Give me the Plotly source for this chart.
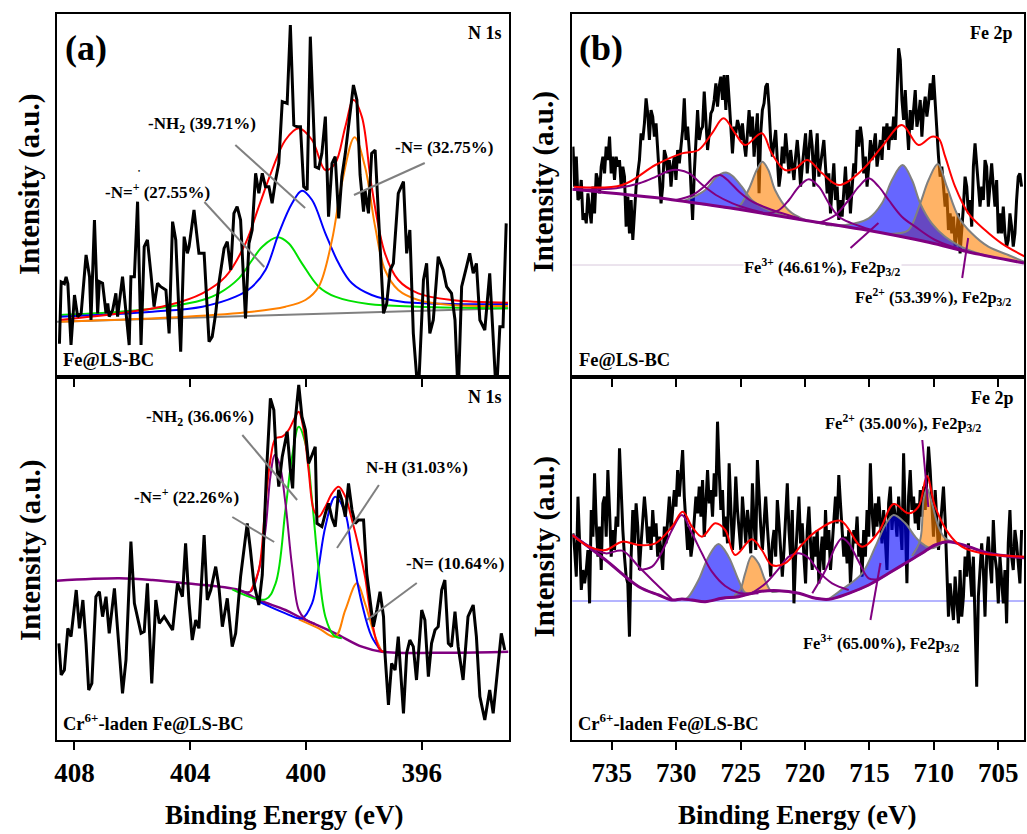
import numpy as np
import plotly.graph_objects as go

FONT = "Liberation Serif"
W, H = 1027, 834

# ======================= DATA =======================
# ---- (a) top: N 1s, Fe@LS-BC ----
n1a_e = [408.52,408.46,408.35,408.29,408.23,408.12,408.00,407.94,407.89,407.77,
         407.60,407.48,407.43,407.31,407.20,407.14,407.03,406.91,406.85,406.80,
         406.68,406.57,406.51,406.34,406.22,406.11,406.05,405.93,405.82,405.70,
         405.59,405.48,405.36,405.25,405.13,405.02,404.84,404.73,404.61,404.50,
         404.33,404.21,404.10,404.04,403.87,403.70,403.52,403.35,403.24,403.12,
         403.01,402.83,402.72,402.60,402.49,402.38,402.26,402.15,402.09,401.97,
         401.86,401.74,401.63,401.51,401.40,401.28,401.17,401.05,400.94,400.82,
         400.65,400.54,400.42,400.31,400.19,400.08,399.96,399.85,399.68,399.56,
         399.45,399.33,399.22,399.10,398.99,398.87,398.76,398.64,398.47,398.36,
         398.24,398.13,398.01,397.96,397.84,397.73,397.61,397.44,397.32,397.21,
         397.09,396.98,396.81,396.63,396.52,396.41,396.29,396.12,395.94,395.83,
         395.72,395.60,395.43,395.26,395.14,394.97,394.85,394.74,394.62,394.45,
         394.34,394.22,394.11,393.99,393.82,393.65,393.53,393.42,393.30,393.19,
         393.08]
n1a_i = [100,285,280,300,280,96,246,211,181,191,
         366,301,171,471,191,286,281,191,221,181,
         201,251,181,301,181,96,301,301,526,96,
         391,411,311,211,281,271,261,131,466,411,
         76,421,371,391,501,371,371,106,121,191,
         281,386,406,321,491,511,471,301,176,401,
         441,611,551,611,571,571,521,591,641,826,
         821,1056,756,751,751,571,561,1021,631,626,
         671,781,481,641,661,476,601,671,791,876,
         831,606,496,561,491,671,681,391,191,221,
         321,341,551,586,371,441,131,-60,291,341,
         131,171,361,321,271,251,171,-60,271,331,
         371,311,341,171,141,311,141,-60,151,151,
         461]
n1a_bg_e = [408.61, 393.0]
n1a_bg_i = [166, 206]
n1a_g_e = [408.52,406.45,404.73,403.58,403.01,402.32,401.86,401.51,400.98,400.60,400.14,399.56,398.99,397.84,396.12,393.02]
n1a_g_i = [186,196,211,231,251,296,351,391,419,401,341,271,241,219,211,206]
n1a_b_e = [408.52,405.30,403.58,402.43,401.86,401.40,400.94,400.48,400.14,399.79,399.33,398.87,398.41,397.73,396.69,394.97,393.02]
n1a_b_i = [181,196,211,241,271,321,431,521,559,531,431,341,281,246,226,219,219]
n1a_o_e = [408.52,404.16,401.86,400.71,400.02,399.56,399.10,398.76,398.32,397.96,397.61,397.27,396.81,396.12,394.97,393.02]
n1a_o_i = [166,181,196,211,231,271,411,581,719,631,451,321,261,231,216,213]
n1a_r_e = [408.52,406.45,404.73,403.58,402.78,402.09,401.63,401.17,400.71,400.25,399.79,399.33,398.99,398.64,398.36,398.07,397.73,397.27,396.81,396.12,394.97,393.02]
n1a_r_i = [171,191,216,251,301,401,511,621,711,746,711,621,641,751,831,781,571,371,291,251,231,223]

# ---- (a) bottom: N 1s, Cr6+-laden Fe@LS-BC ----
n1b_e = [408.54,408.46,408.35,408.23,408.12,407.94,407.83,407.71,407.60,407.51,
         407.40,407.26,407.14,407.03,406.91,406.80,406.62,406.51,406.34,406.22,
         406.05,405.93,405.70,405.59,405.48,405.33,405.19,405.07,404.90,404.79,
         404.61,404.44,404.27,404.16,404.04,403.93,403.81,403.70,403.52,403.41,
         403.29,403.12,403.01,402.89,402.72,402.55,402.43,402.26,402.03,401.92,
         401.80,401.63,401.51,401.36,401.23,401.11,401.03,400.94,400.82,400.65,
         400.54,400.46,400.37,400.25,400.14,400.02,399.91,399.79,399.68,399.62,
         399.45,399.33,399.22,399.10,398.99,398.87,398.76,398.64,398.53,398.41,
         398.30,398.18,398.01,397.90,397.78,397.67,397.55,397.44,397.32,397.27,
         397.15,397.04,396.92,396.81,396.63,396.52,396.41,396.29,396.18,396.00,
         395.89,395.77,395.66,395.54,395.43,395.31,395.20,395.08,394.97,394.85,
         394.74,394.57,394.40,394.22,394.11,393.99,393.82,393.65,393.53,393.36,
         393.25,393.13]
n1b_i = [290,195,210,335,310,450,335,420,290,150,
         170,430,445,370,430,320,455,330,140,240,
         595,410,320,325,470,170,420,350,370,355,
         330,470,430,590,410,300,360,335,615,420,
         450,520,460,340,425,280,320,490,650,570,
         470,405,495,810,1025,990,850,760,850,925,
         810,755,960,1065,970,930,830,855,880,650,
         640,680,710,665,640,750,720,670,770,690,
         650,660,660,500,410,340,390,445,370,260,
         105,230,210,310,80,260,300,280,180,390,
         360,190,290,330,340,450,480,290,280,385,
         280,180,370,405,310,130,60,150,80,230,
         320,270]
n1b_bg_e = [408.61,406.45,405.30,404.16,402.32,401.63,400.71,400.14,398.99,398.07,397.38,394.97,393.0]
n1b_bg_i = [478,485,480,470,450,420,390,365,320,280,265,262,265]
n1b_p_e = [402.32,401.92,401.63,401.40,401.23,401.08,400.92,400.71,400.48,400.25,400.02,399.68]
n1b_p_i = [450,445,510,630,790,855,830,710,520,390,362,348]
n1b_g_e = [402.55,401.40,401.05,400.71,400.48,400.25,400.02,399.79,399.56,399.33,399.05,398.76]
n1b_g_i = [452,422,470,690,850,940,890,720,510,370,315,305]
n1b_b_e = [401.63,400.71,400.14,399.79,399.56,399.33,398.99,398.64,398.41,398.07,397.73,397.38]
n1b_b_i = [415,380,365,410,520,640,730,680,560,410,310,265]
n1b_o_e = [400.25,399.56,398.99,398.64,398.24,397.96,397.61,397.38]
n1b_o_i = [362,335,310,390,470,410,310,265]
n1b_r_e = [401.92,401.63,401.40,401.23,401.05,400.82,400.60,400.37,400.25,400.08,399.91,399.73,399.56,399.33,399.10,398.87,398.64,398.41,398.18,397.96,397.73,397.44,397.27]
n1b_r_i = [445,510,710,840,905,910,930,970,985,930,810,690,670,700,740,760,730,660,580,490,360,270,265]

# ---- (b) top: Fe 2p, Fe@LS-BC ----
fe_e_start, fe_e_end = 738.02, 703.19   # energy span of the recorded spectra
fe1_i = [691,571,661,531,541,591,471,491,461,551,501,461,571,491,611,591,551,631,661,611,
         691,651,721,611,661,591,661,631,651,571,631,601,451,541,431,531,411,491,571,611,
         651,731,711,761,836,791,711,801,781,721,761,681,611,521,571,681,661,611,651,571,
         631,661,591,681,641,701,741,836,711,751,681,571,471,611,691,801,711,741,751,856,
         771,681,731,791,801,831,881,811,871,901,831,906,801,906,831,731,671,751,731,771,
         751,711,761,701,661,731,801,721,781,661,721,791,551,731,801,821,871,881,811,711,
         661,701,741,651,571,611,691,641,731,671,611,681,641,591,661,711,651,571,631,681,
         731,611,671,741,691,571,661,731,601,641,681,711,631,551,611,491,571,641,531,571,
         471,531,481,571,631,531,591,491,571,641,611,741,691,751,711,611,661,571,631,711,
         651,691,731,631,671,711,651,751,711,761,681,751,711,781,711,871,986,951,831,771,
         861,761,681,801,741,801,861,751,781,831,721,801,841,781,821,881,831,906,811,731,
         661,601,631,571,511,551,441,491,431,481,391,431,491,371,431,511,601,571,491,531,
         451,631,701,631,561,511,571,531,651,631,511,571,641,571,511,591,431,491,431,511,
         431,391,411,491,451,391,431,531,601,611,571]
fe1_bg_e = [738.07,730.33,725.17,720.27,715.57,710.41,707.32,703.0]
fe1_bg_i = [563,532,503,472,443,404,375,342]
# Fe3+ (blue) and Fe2+ (orange) fitted peaks: top edge, then baseline back
fe1_bA_top_e = [729.50,728.73,727.75,726.98,726.54,726.07,725.63,724.91,724.14,723.36,722.33,721.30,720.27]
fe1_bA_top_i = [527,539,561,596,609,613,603,571,531,511,493,479,472]
fe1_bA_bot_e = [725.17,729.50]
fe1_bA_bot_i = [503,527]
fe1_oB_top_e = [726.41,725.17,724.40,723.75,723.31,722.85,722.33,721.30,720.27,717.90]
fe1_oB_top_i = [510,511,561,621,646,621,561,501,476,455]
fe1_oB_bot_e = [720.27,725.17,726.41]
fe1_oB_bot_i = [472,503,510]
fe1_bC_top_e = [718.41,716.86,715.06,714.03,713.25,712.43,711.70,711.06,710.16,709.12,707.32,705.25]
fe1_bC_top_i = [456,456,476,521,591,636,591,521,461,421,381,357]
fe1_bC_bot_e = [707.32,710.41,715.57,718.41]
fe1_bC_bot_i = [375,404,443,456]
fe1_oD_top_e = [713.77,712.74,711.96,711.06,710.41,709.69,708.99,708.09,707.06,705.77,704.22,703.0]
fe1_oD_top_i = [429,431,441,521,591,639,571,481,431,391,366,346]
fe1_oD_bot_e = [707.32,710.41,713.77]
fe1_oD_bot_i = [375,404,429]
# satellites (purple)
fe1_p1_e = [738.02,734.66,732.86,731.57,730.54,729.81,728.99,727.96,726.92,725.63,724.09,722.54]
fe1_p1_i = [563,566,581,601,619,621,611,576,546,521,501,486]
fe1_p2_e = [730.02,728.73,727.70,727.05,726.59,725.89,725.12,724.09,722.54,720.48]
fe1_p2_i = [531,546,576,601,606,586,556,526,501,476]
fe1_p3_e = [723.06,722.02,721.25,720.48,719.70,718.93,718.15,717.38,716.35,714.80]
fe1_p3_i = [490,501,531,571,593,571,521,481,461,441]
fe1_p4_e = [718.93,717.64,716.61,715.83,715.06,714.28,713.51,712.48,711.45,709.90,707.32]
fe1_p4_i = [462,486,531,571,596,571,531,481,451,411,375]
fe1_r_e = [737.94,734.20,731.62,729.56,728.27,727.23,726.33,725.43,724.65,723.36,722.59,721.56,720.73,719.83,
           718.67,717.38,715.57,714.03,712.48,711.19,710.16,709.64,709.12,708.35,707.32,706.03,704.74,702.93]
fe1_r_i = [571,576,636,671,681,731,776,731,696,731,671,621,626,651,
           611,576,621,691,756,696,721,716,661,571,491,441,401,361]
fe1_ref_i = 336

# ---- (b) bottom: Fe 2p, Cr6+-laden Fe@LS-BC ----
fe2_i = [620,570,490,730,590,450,510,470,510,570,410,690,610,800,650,550,640,510,710,730,
         610,810,690,550,630,570,670,640,875,730,630,550,490,470,310,550,690,590,710,640,
         510,590,650,730,670,590,640,570,690,610,650,550,610,570,510,640,590,670,730,630,
         700,750,700,810,730,790,870,730,660,570,640,550,590,660,730,680,760,670,780,610,
         730,810,710,750,670,800,730,955,810,690,750,610,670,590,830,710,570,650,790,690,
         630,570,730,640,590,690,640,560,770,650,570,840,730,640,570,670,730,640,550,490,
         590,630,550,720,650,580,490,570,690,770,630,550,690,410,550,650,730,590,650,550,
         470,630,700,590,510,610,550,630,470,550,610,510,690,570,630,510,590,670,730,650,
         795,710,630,550,610,530,630,470,550,630,590,670,550,590,490,630,550,690,610,830,
         690,610,710,640,730,670,590,690,610,510,710,760,630,710,670,610,730,650,570,860,
         670,470,730,810,690,730,650,710,630,750,670,760,690,810,880,810,710,610,750,660,
         570,630,710,760,660,510,370,470,410,360,490,410,350,510,370,430,550,490,590,510,
         430,550,390,160,430,510,590,510,370,550,610,530,470,660,550,510,410,550,470,410,
         510,350,590,690,550,510,630,590,530,470,630]
fe2_bg_e = [738.07,735.49,732.91,731.36,730.33,729.56,728.78,727.75,726.46,725.17,723.62,722.07,720.48,719.18,
            718.15,716.61,715.06,713.51,712.22,710.93,709.90,708.86,707.32,705.77,703.0]
fe2_bg_i = [615,540,460,435,420,423,420,415,425,430,445,448,440,425,
            422,440,465,500,530,560,585,595,580,560,547]
fe2_bA_top_e = [729.30,729.04,728.27,727.49,726.72,725.94,725.17,724.65,724.09]
fe2_bA_top_i = [422,430,480,550,588,550,480,442,438]
fe2_bA_bot_e = [725.17,727.75,729.30]
fe2_bA_bot_i = [430,415,422]
fe2_oB_top_e = [725.50,725.04,724.65,724.14,723.62,723.11,722.59,722.02]
fe2_oB_top_i = [433,450,500,552,530,480,445,447]
fe2_oB_bot_e = [723.62,725.50]
fe2_oB_bot_i = [445,433]
fe2_bC_top_e = [718.15,717.38,715.57,714.54,713.77,713.12,712.22,711.45,710.93,710.16,709.40]
fe2_bC_top_i = [423,445,500,580,645,675,650,610,590,575,590]
fe2_bC_bot_e = [710.93,713.51,716.61,718.15]
fe2_bC_bot_i = [560,500,440,423]
fe2_oD_top_e = [711.70,711.06,710.80,710.54,710.16,709.64,709.12,708.35,707.58]
fe2_oD_top_i = [552,600,720,755,712,640,605,592,583]
fe2_oD_bot_e = [708.86,709.90,711.70]
fe2_oD_bot_i = [595,585,552]
fe2_s0_e = [738.07,736.78,735.49,734.20,732.91,731.62,730.33]
fe2_s0_i = [615,582,560,568,520,470,422]
fe2_s1_e = [732.91,731.88,731.10,730.33,729.56,728.78,728.01,727.23,726.20,725.17,723.62]
fe2_s1_i = [510,520,565,630,675,620,560,505,462,442,440]
fe2_s2_e = [724.09,723.06,722.02,721.25,720.48,719.70,718.93,717.90,716.61]
fe2_s2_i = [442,470,515,550,560,545,505,470,450]
fe2_s3_e = [719.44,718.41,717.64,717.12,716.61,715.83,715.06,714.28]
fe2_s3_i = [440,510,580,605,590,535,485,482]
fe2_r_e = [738.07,736.78,735.49,734.20,732.91,731.62,730.33,729.50,728.78,728.01,726.98,726.20,725.43,724.14,
           723.36,722.59,721.56,720.27,719.18,717.25,715.57,714.28,713.12,711.96,711.19,710.54,709.90,708.86,
           707.83,706.28,702.93]
fe2_r_i = [615,580,570,595,585,590,640,685,640,610,650,630,555,602,
           570,525,530,585,625,658,580,625,708,680,700,792,700,620,
           580,560,550]
fe2_ref_i = 417

# tick labels
n_ticks = [408, 404, 400, 396]
fe_ticks = [735, 730, 725, 720, 715, 710, 705]

# ======================= FIGURE =======================
fig = go.Figure()
AX = {"tl": ("x", "y"), "tr": ("x2", "y2"), "bl": ("x3", "y3"), "br": ("x4", "y4")}

def line(p, xs, ys, color, width, shape="spline"):
    xa, ya = AX[p]
    fig.add_trace(go.Scatter(x=list(xs), y=list(ys), mode="lines",
                             line=dict(color=color, width=width, shape=shape),
                             xaxis=xa, yaxis=ya, showlegend=False, hoverinfo="skip"))

def area(p, te, ti, be, bi, color):
    xa, ya = AX[p]
    fig.add_trace(go.Scatter(x=list(te) + list(be), y=list(ti) + list(bi), mode="lines",
                             fill="toself", fillcolor=color,
                             line=dict(width=0, shape="spline"),
                             xaxis=xa, yaxis=ya, showlegend=False, hoverinfo="skip"))

RED, GREEN, BLUE, ORANGE, PURPLE, GRAY = "#ff0000", "#00e000", "#0000ff", "#ff8000", "#800080", "#808080"
BFILL, OFILL = "rgba(0,0,255,0.6)", "rgba(255,128,0,0.6)"

# --- top-left
line("tl", n1a_bg_e, n1a_bg_i, GRAY, 2, "linear")
line("tl", n1a_g_e, n1a_g_i, GREEN, 2)
line("tl", n1a_b_e, n1a_b_i, BLUE, 2)
line("tl", n1a_o_e, n1a_o_i, ORANGE, 2)
line("tl", n1a_r_e, n1a_r_i, RED, 2)
line("tl", n1a_e, n1a_i, "black", 3, "linear")

# --- bottom-left
line("bl", n1b_bg_e, n1b_bg_i, PURPLE, 2.5)
line("bl", n1b_o_e, n1b_o_i, ORANGE, 2)
line("bl", n1b_b_e, n1b_b_i, BLUE, 2)
line("bl", n1b_g_e, n1b_g_i, GREEN, 2)
line("bl", n1b_p_e, n1b_p_i, PURPLE, 2)
line("bl", n1b_r_e, n1b_r_i, RED, 2)
line("bl", n1b_e, n1b_i, "black", 3, "linear")

# --- top-right
fe1_e = np.linspace(fe_e_start, fe_e_end, len(fe1_i))
line("tr", fe1_e, fe1_i, "black", 3, "linear")
area("tr", fe1_oB_top_e, fe1_oB_top_i, fe1_oB_bot_e, fe1_oB_bot_i, OFILL)
area("tr", fe1_oD_top_e, fe1_oD_top_i, fe1_oD_bot_e, fe1_oD_bot_i, OFILL)
area("tr", fe1_bA_top_e, fe1_bA_top_i, fe1_bA_bot_e, fe1_bA_bot_i, BFILL)
area("tr", fe1_bC_top_e, fe1_bC_top_i, fe1_bC_bot_e, fe1_bC_bot_i, BFILL)
for te, ti in [(fe1_oB_top_e, fe1_oB_top_i), (fe1_oD_top_e, fe1_oD_top_i),
               (fe1_bA_top_e, fe1_bA_top_i), (fe1_bC_top_e, fe1_bC_top_i)]:
    line("tr", te, ti, GRAY, 2)
for se, si in [(fe1_p1_e, fe1_p1_i), (fe1_p2_e, fe1_p2_i), (fe1_p3_e, fe1_p3_i), (fe1_p4_e, fe1_p4_i)]:
    line("tr", se, si, PURPLE, 2)
line("tr", fe1_bg_e, fe1_bg_i, PURPLE, 3)
line("tr", fe1_r_e, fe1_r_i, RED, 2)

# --- bottom-right
fe2_e = np.linspace(fe_e_start, fe_e_end, len(fe2_i))
line("br", fe2_e, fe2_i, "black", 3, "linear")
area("br", fe2_oB_top_e, fe2_oB_top_i, fe2_oB_bot_e, fe2_oB_bot_i, OFILL)
area("br", fe2_oD_top_e, fe2_oD_top_i, fe2_oD_bot_e, fe2_oD_bot_i, OFILL)
area("br", fe2_bA_top_e, fe2_bA_top_i, fe2_bA_bot_e, fe2_bA_bot_i, BFILL)
area("br", fe2_bC_top_e, fe2_bC_top_i, fe2_bC_bot_e, fe2_bC_bot_i, BFILL)
for te, ti in [(fe2_oB_top_e, fe2_oB_top_i), (fe2_oD_top_e, fe2_oD_top_i),
               (fe2_bA_top_e, fe2_bA_top_i), (fe2_bC_top_e, fe2_bC_top_i)]:
    line("br", te, ti, GRAY, 2)
for se, si in [(fe2_s0_e, fe2_s0_i), (fe2_s1_e, fe2_s1_i), (fe2_s2_e, fe2_s2_i), (fe2_s3_e, fe2_s3_i)]:
    line("br", se, si, PURPLE, 2)
line("br", fe2_bg_e, fe2_bg_i, GRAY, 2)
line("br", fe2_bg_e, fe2_bg_i, PURPLE, 3)
line("br", fe2_r_e, fe2_r_i, RED, 2)

# ======================= LAYOUT =======================
def px(x): return x / W
def py(y): return 1 - y / H

LEFT = [px(54), px(507)]
RIGHT = [px(571), px(1024)]
TOP = [py(377), py(14)]
BOT = [py(740), py(377)]

xcommon = dict(showline=True, linecolor="black", linewidth=2, mirror=True, ticks="outside",
               ticklen=8, tickwidth=2, tickcolor="black", showgrid=False, zeroline=False,
               ticklabelstandoff=0,
               tickfont=dict(family=FONT, size=27, color="black", weight="bold"))
ycommon = dict(showline=True, linecolor="black", linewidth=2, mirror=True, ticks="",
               showticklabels=False, showgrid=False, zeroline=False, range=[0, 1089])

fig.update_layout(
    width=W, height=H, margin=dict(l=0, r=0, t=0, b=0),
    plot_bgcolor="white", paper_bgcolor="white", showlegend=False,
    xaxis=dict(xcommon, domain=LEFT, range=[408.61, 393.0], tickvals=n_ticks, showticklabels=False, anchor="y"),
    yaxis=dict(ycommon, domain=TOP, anchor="x"),
    xaxis2=dict(xcommon, domain=RIGHT, range=[738.07, 703.0], tickvals=fe_ticks, showticklabels=False, anchor="y2"),
    yaxis2=dict(ycommon, domain=TOP, anchor="x2"),
    xaxis3=dict(xcommon, domain=LEFT, range=[408.61, 393.0], tickvals=n_ticks, anchor="y3"),
    yaxis3=dict(ycommon, domain=BOT, anchor="x3"),
    xaxis4=dict(xcommon, domain=RIGHT, range=[738.07, 703.0], tickvals=fe_ticks, anchor="y4"),
    yaxis4=dict(ycommon, domain=BOT, anchor="x4"),
)

shapes = []
# thin reference lines in Fe 2p panels
shapes.append(dict(type="line", xref="x2 domain", yref="y2", x0=0, x1=1, y0=fe1_ref_i, y1=fe1_ref_i,
                   line=dict(color="#d8c8dc", width=1), layer="below"))
shapes.append(dict(type="line", xref="x4 domain", yref="y4", x0=0, x1=1, y0=fe2_ref_i, y1=fe2_ref_i,
                   line=dict(color="#6a6aff", width=1), layer="below"))
# pointer lines (pixel positions)
pointers = [
    ((233, 145), (303, 208), GRAY), ((202, 202), (262, 267), GRAY), ((423, 163), (352, 195), GRAY),
    ((240, 435), (295, 500), GRAY), ((230, 517), (272, 542), GRAY), ((377, 485), (335, 548), GRAY),
    ((415, 583), (365, 620), GRAY),
    ((850, 248), (878, 223), PURPLE), ((962, 278), (968, 238), PURPLE),
    ((922, 440), (928, 507), PURPLE), ((870, 620), (880, 563), PURPLE),
]
for (x0, y0), (x1, y1), c in pointers:
    shapes.append(dict(type="line", xref="paper", yref="paper", x0=px(x0), y0=py(y0), x1=px(x1), y1=py(y1),
                       line=dict(color=c, width=2)))
fig.update_layout(shapes=shapes)

def text(x, y, s, size=17, xanchor="center", angle=0, bg=None):
    fig.add_annotation(x=px(x), y=py(y), xref="paper", yref="paper", text="<b>" + s + "</b>",
                       showarrow=False, xanchor=xanchor, yanchor="middle", textangle=angle,
                       font=dict(family=FONT, size=size, color="black"),
                       bgcolor=bg if bg else "rgba(0,0,0,0)", borderpad=0)

# panel labels
text(61, 48, "(a)", 36, "left")
text(577, 48, "(b)", 36, "left")
text(501, 33, "N 1s", 18, "right")
text(501, 397, "N 1s", 18, "right")
text(1014, 33, "Fe 2p", 18, "right")
text(1015, 398, "Fe 2p", 18, "right")
text(59, 360, "Fe@LS-BC", 18.5, "left")
text(577, 360, "Fe@LS-BC", 18.5, "left")
text(59, 722, "Cr<sup>6+</sup>-laden Fe@LS-BC", 18.5, "left")
text(576, 722, "Cr<sup>6+</sup>-laden Fe@LS-BC", 18.5, "left")
# peak labels
text(200, 125, "-NH<sub>2</sub> (39.71%)")
text(155, 191, "-N=<sup>+</sup> (27.55%)")
text(136, 171, "\u2022", 6)
text(442, 147, "-N= (32.75%)")
text(198, 418, "-NH<sub>2</sub> (36.06%)")
text(184, 496, "-N=<sup>+</sup> (22.26%)")
text(415, 468, "N-H (31.03%)")
text(453, 563, "-N= (10.64%)")
text(822, 267, "Fe<sup>3+</sup> (46.61%), Fe2p<sub>3/2</sub>", 16.5, bg="white")
text(933, 297, "Fe<sup>2+</sup> (53.39%), Fe2p<sub>3/2</sub>", 16.5)
text(903, 423, "Fe<sup>2+</sup> (35.00%), Fe2p<sub>3/2</sub>", 16.5)
text(881, 643, "Fe<sup>3+</sup> (65.00%), Fe2p<sub>3/2</sub>", 16.5)
# axis titles
for (x, y) in [(27, 184), (27, 550), (543, 182), (543, 547)]:
    text(x, y, "Intensity (a.u.)", 29, angle=-90)
text(282, 815, "Binding Energy (eV)", 27)
text(797, 815, "Binding Energy (eV)", 27)

fig.write_html("out.html")
